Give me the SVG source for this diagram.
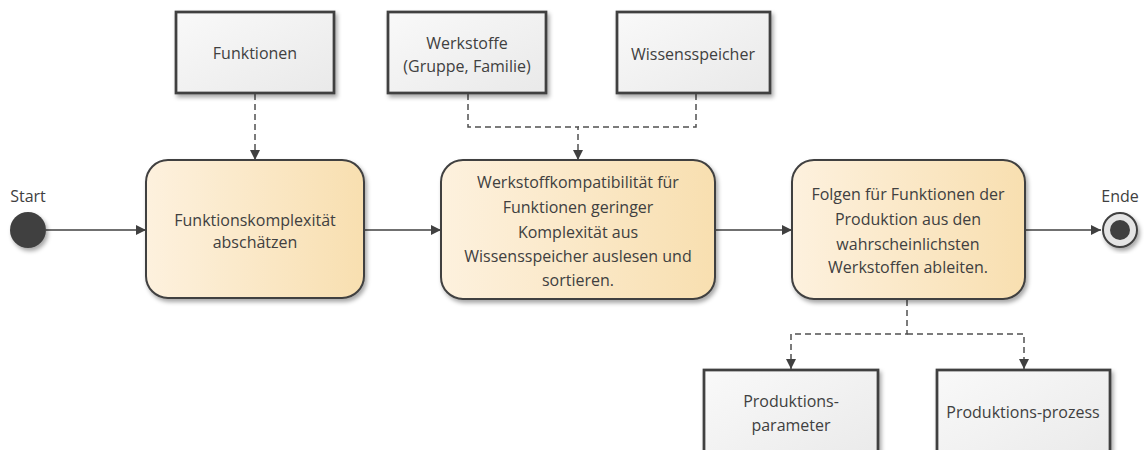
<svg xmlns="http://www.w3.org/2000/svg" width="1145" height="450" viewBox="0 0 1145 450">
  <defs>
    <linearGradient id="actFill" x1="0" y1="0" x2="1" y2="0">
      <stop offset="0" stop-color="#fdf1de"/>
      <stop offset="1" stop-color="#f8dfb0"/>
    </linearGradient>
    <linearGradient id="objFill" x1="0" y1="0" x2="1" y2="1">
      <stop offset="0" stop-color="#f9f9f9"/>
      <stop offset="1" stop-color="#e9e9e9"/>
    </linearGradient>
    <filter id="shadow" x="-20%" y="-20%" width="140%" height="140%">
      <feDropShadow dx="2" dy="3" stdDeviation="2" flood-color="#000" flood-opacity="0.35"/>
    </filter>
    <marker id="arrow" viewBox="0 0 10 10" refX="10" refY="5" markerWidth="10" markerHeight="10" markerUnits="userSpaceOnUse" orient="auto">
      <path d="M0,0 L10,5 L0,10 Z" fill="#404040"/>
    </marker>
  </defs>
  <style>
    text { font-family: "Open Sans", "Noto Sans", sans-serif; font-size: 16px; fill: #404040; text-anchor: middle; dominant-baseline: central; }
    .act { fill: url(#actFill); stroke: #404040; stroke-width: 2; filter: url(#shadow); }
    .obj { fill: url(#objFill); stroke: #404040; stroke-width: 2.75; filter: url(#shadow); }
    .flow { fill: none; stroke: #404040; stroke-width: 1.5; }
    .dep { fill: none; stroke: #505050; stroke-width: 1.5; stroke-dasharray: 6 4; }
  </style>

  <!-- connectors: control flow (solid) and object flow (dashed) -->
  <g id="connectors">
    <line class="flow" x1="46" y1="230" x2="146" y2="230" marker-end="url(#arrow)"/>
    <line class="flow" x1="364" y1="230" x2="441" y2="230" marker-end="url(#arrow)"/>
    <line class="flow" x1="715" y1="230" x2="792" y2="230" marker-end="url(#arrow)"/>
    <line class="flow" x1="1025" y1="230" x2="1101" y2="230" marker-end="url(#arrow)"/>
    <path class="dep" d="M255,94 V160" marker-end="url(#arrow)"/>
    <path class="dep" d="M468,94 V127 H578 V160" marker-end="url(#arrow)"/>
    <path class="dep" d="M696,94 V127 H578"/>
    <path class="dep" d="M907,300 V334 H791 V369" marker-end="url(#arrow)"/>
    <path class="dep" d="M907,334 H1024 V369" marker-end="url(#arrow)"/>
  </g>

  <!-- start / end -->
  <g id="start">
    <circle cx="28" cy="230" r="18" fill="#404040" filter="url(#shadow)"/>
    <text x="28" y="196">Start</text>
  </g>
  <g id="end">
    <circle cx="1120" cy="230" r="17" fill="#e4e4e4" stroke="#404040" stroke-width="2" filter="url(#shadow)"/>
    <circle cx="1120" cy="230" r="10" fill="#404040"/>
    <text x="1120" y="196">Ende</text>
  </g>

  <!-- objects -->
  <g id="funktionen">
    <rect class="obj" x="176" y="12" width="158" height="81"/>
    <text x="255" y="53">Funktionen</text>
  </g>
  <g id="werkstoffe">
    <rect class="obj" x="388" y="12" width="158" height="81"/>
    <text x="467" y="43">Werkstoffe</text>
    <text x="467" y="66">(Gruppe, Familie)</text>
  </g>
  <g id="wissensspeicher">
    <rect class="obj" x="617" y="12" width="153" height="81"/>
    <text x="693" y="54">Wissensspeicher</text>
  </g>
  <g id="produktionsparameter">
    <rect class="obj" x="704" y="370" width="174" height="100"/>
    <text x="791" y="401">Produktions-</text>
    <text x="791" y="425">parameter</text>
  </g>
  <g id="produktionsprozess">
    <rect class="obj" x="937" y="370" width="173" height="100"/>
    <text x="1023" y="412">Produktions-prozess</text>
  </g>

  <!-- activities -->
  <g id="act-komplexitaet">
    <rect class="act" x="146" y="160" width="218" height="138" rx="22"/>
    <text x="255" y="220">Funktionskomplexität</text>
    <text x="255" y="242">abschätzen</text>
  </g>
  <g id="act-kompatibilitaet">
    <rect class="act" x="441" y="160" width="274" height="139" rx="22"/>
    <text x="578" y="182">Werkstoffkompatibilität für</text>
    <text x="578" y="207">Funktionen geringer</text>
    <text x="578" y="232">Komplexität aus</text>
    <text x="578" y="256">Wissensspeicher auslesen und</text>
    <text x="578" y="280">sortieren.</text>
  </g>
  <g id="act-folgen">
    <rect class="act" x="792" y="160" width="233" height="139" rx="22"/>
    <text x="908" y="194">Folgen für Funktionen der</text>
    <text x="908" y="219">Produktion aus den</text>
    <text x="908" y="244">wahrscheinlichsten</text>
    <text x="908" y="267">Werkstoffen ableiten.</text>
  </g>
</svg>
